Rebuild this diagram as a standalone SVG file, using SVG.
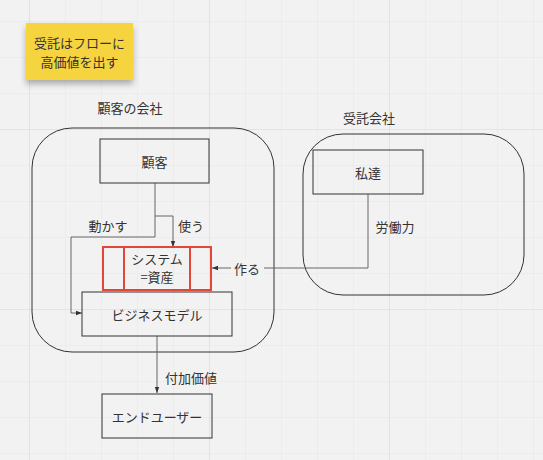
<svg xmlns="http://www.w3.org/2000/svg" width="543" height="460" viewBox="0 0 543 460">
  <defs>
    <pattern id="minor" x="29" y="21" width="36" height="36" patternUnits="userSpaceOnUse">
      <path d="M0 0 V36 M0 0 H36" fill="none" stroke="#e6e6e6" stroke-width="1"/>
    </pattern>
    <pattern id="major" x="29" y="129" width="180" height="180" patternUnits="userSpaceOnUse">
      <path d="M0 0 V180 M0 0 H180" fill="none" stroke="#dcdcdc" stroke-width="1.2"/>
    </pattern>
    <marker id="arr" viewBox="0 0 6 6" refX="6" refY="3" markerWidth="6" markerHeight="6" orient="auto" markerUnits="userSpaceOnUse">
      <path d="M0 0.8 L6 3 L0 5.2 Z" fill="#333"/>
    </marker>
    <filter id="shadow" x="-20%" y="-20%" width="140%" height="160%">
      <feDropShadow dx="0" dy="4" stdDeviation="3" flood-color="#000" flood-opacity="0.3"/>
    </filter>
  </defs>
  <style>
    text { font-family: "Noto Sans CJK JP", "Noto Sans", sans-serif; font-size: 13px; fill: #333; text-anchor: middle; dominant-baseline: central; }
    .box { fill: none; stroke: #333; stroke-width: 1; }
    .cont { fill: none; stroke: #333; stroke-width: 1; }
    .red { fill: none; stroke: #e2473a; stroke-width: 2; }
    .edge { fill: none; stroke: #666; stroke-width: 1; }
    .lbl-bg { fill: #f2f2f2; }
  </style>
  <rect width="543" height="460" fill="#f2f2f2"/>
  <rect width="543" height="460" fill="url(#minor)"/>
  <rect width="543" height="460" fill="url(#major)"/>

  <g id="sticky">
    <rect x="26" y="23" width="107" height="57" fill="#f5d43f" filter="url(#shadow)"/>
    <text x="79.5" y="42">受託はフローに</text>
    <text x="79.5" y="61">高価値を出す</text>
  </g>

  <g id="client-company">
    <rect class="cont" x="32" y="128" width="242" height="224" rx="40" ry="40"/>
    <text x="130" y="107">顧客の会社</text>
  </g>

  <g id="contractor-company">
    <rect class="cont" x="303" y="134" width="221" height="161" rx="40" ry="40"/>
    <text x="369" y="117">受託会社</text>
  </g>

  <g id="connectors">
    <path class="edge" d="M155 183 V216 H173 V247" marker-end="url(#arr)"/>
    <path class="edge" d="M155 216 V237 H71 V313 H82" marker-end="url(#arr)"/>
    <path class="edge" d="M368 194 V268 H212" marker-end="url(#arr)"/>
    <path class="edge" d="M157 336 V393" marker-end="url(#arr)"/>
    <text x="191" y="225">使う</text>
    <text x="108" y="225">動かす</text>
    <rect class="lbl-bg" x="231" y="259" width="33" height="18"/>
    <text x="247" y="268">作る</text>
    <text x="395" y="226">労働力</text>
    <text x="191" y="377">付加価値</text>
  </g>

  <g id="customer">
    <rect class="box" x="100" y="139" width="109" height="44"/>
    <text x="154.5" y="161">顧客</text>
  </g>

  <g id="system">
    <rect class="red" x="103" y="247" width="108" height="43"/>
    <line class="red" x1="124" y1="247" x2="124" y2="290"/>
    <line class="red" x1="190" y1="247" x2="190" y2="290"/>
    <text x="157" y="258">システム</text>
    <text x="157" y="276">=資産</text>
  </g>

  <g id="business-model">
    <rect class="box" x="82" y="292" width="150" height="44"/>
    <text x="157" y="314">ビジネスモデル</text>
  </g>

  <g id="us">
    <rect class="box" x="313" y="150" width="110" height="44"/>
    <text x="368" y="172">私達</text>
  </g>

  <g id="end-user">
    <rect class="box" x="102" y="394" width="110" height="44"/>
    <text x="157" y="416">エンドユーザー</text>
  </g>
</svg>
